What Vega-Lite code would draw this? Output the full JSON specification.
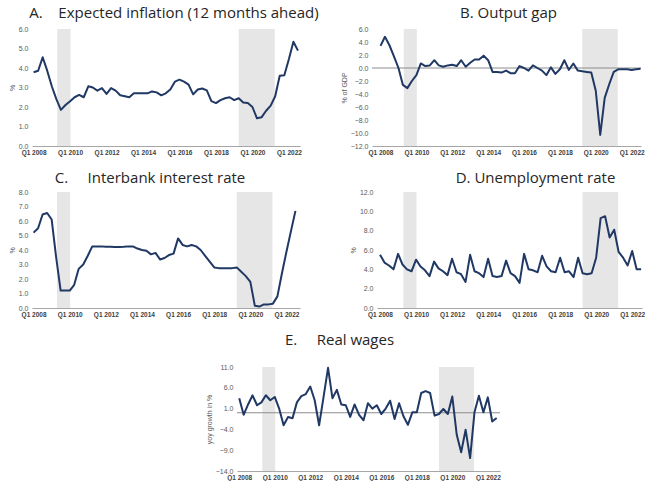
{
  "$schema": "https://vega.github.io/schema/vega-lite/v6.json",
  "background": "white",
  "padding": {"left": 8, "top": 6, "right": 0, "bottom": 0},
  "spacing": 15,
  "datasets": {
    "shade": [
      {"start": "2009-04-19", "end": "2010-01-10"},
      {"start": "2019-04-01", "end": "2021-03-23"}
    ],
    "series": [
      {"q": "2008-01-01", "infl": 3.78, "gap": 3.4, "rate": 5.2, "unemp": 5.5, "wage": 3.5},
      {"q": "2008-04-01", "infl": 3.86, "gap": 4.8, "rate": 5.5, "unemp": 4.7, "wage": -0.5},
      {"q": "2008-07-01", "infl": 4.55, "gap": 3.5, "rate": 6.45, "unemp": 4.4, "wage": 2.0},
      {"q": "2008-10-01", "infl": 3.85, "gap": 1.8, "rate": 6.55, "unemp": 4.0, "wage": 4.2},
      {"q": "2009-01-01", "infl": 3.05, "gap": 0.0, "rate": 6.1, "unemp": 5.6, "wage": 1.8},
      {"q": "2009-04-01", "infl": 2.4, "gap": -2.6, "rate": 3.5, "unemp": 4.5, "wage": 2.5},
      {"q": "2009-07-01", "infl": 1.85, "gap": -3.1, "rate": 1.2, "unemp": 4.0, "wage": 4.2},
      {"q": "2009-10-01", "infl": 2.1, "gap": -2.0, "rate": 1.2, "unemp": 3.8, "wage": 3.0},
      {"q": "2010-01-01", "infl": 2.3, "gap": -1.1, "rate": 1.2, "unemp": 5.0, "wage": 3.8},
      {"q": "2010-04-01", "infl": 2.5, "gap": 0.7, "rate": 1.6, "unemp": 4.3, "wage": 1.0},
      {"q": "2010-07-01", "infl": 2.62, "gap": 0.3, "rate": 2.7, "unemp": 3.9, "wage": -3.0},
      {"q": "2010-10-01", "infl": 2.5, "gap": 0.4, "rate": 3.0, "unemp": 3.3, "wage": -1.0},
      {"q": "2011-01-01", "infl": 3.06, "gap": 1.2, "rate": 3.6, "unemp": 4.8, "wage": -1.3},
      {"q": "2011-04-01", "infl": 3.0, "gap": 0.4, "rate": 4.25, "unemp": 4.1, "wage": 2.5},
      {"q": "2011-07-01", "infl": 2.84, "gap": 0.2, "rate": 4.25, "unemp": 3.8, "wage": 4.0},
      {"q": "2011-10-01", "infl": 2.97, "gap": 0.4, "rate": 4.25, "unemp": 3.4, "wage": 4.5},
      {"q": "2012-01-01", "infl": 2.67, "gap": 0.5, "rate": 4.22, "unemp": 5.1, "wage": 6.3},
      {"q": "2012-04-01", "infl": 2.97, "gap": 0.3, "rate": 4.22, "unemp": 3.7, "wage": 3.0},
      {"q": "2012-07-01", "infl": 2.84, "gap": 1.2, "rate": 4.2, "unemp": 3.5, "wage": -3.0},
      {"q": "2012-10-01", "infl": 2.6, "gap": 0.2, "rate": 4.2, "unemp": 2.7, "wage": 3.8},
      {"q": "2013-01-01", "infl": 2.55, "gap": 0.8, "rate": 4.22, "unemp": 5.5, "wage": 10.8},
      {"q": "2013-04-01", "infl": 2.5, "gap": 1.3, "rate": 4.25, "unemp": 3.8, "wage": 3.5},
      {"q": "2013-07-01", "infl": 2.7, "gap": 1.3, "rate": 4.25, "unemp": 3.6, "wage": 5.5},
      {"q": "2013-10-01", "infl": 2.7, "gap": 1.9, "rate": 4.1, "unemp": 3.2, "wage": 2.0},
      {"q": "2014-01-01", "infl": 2.7, "gap": 1.2, "rate": 4.0, "unemp": 5.1, "wage": 1.8},
      {"q": "2014-04-01", "infl": 2.7, "gap": -0.6, "rate": 3.95, "unemp": 3.3, "wage": -1.0},
      {"q": "2014-07-01", "infl": 2.8, "gap": -0.6, "rate": 3.7, "unemp": 3.2, "wage": 2.0},
      {"q": "2014-10-01", "infl": 2.75, "gap": -0.7, "rate": 3.8, "unemp": 3.3, "wage": -0.5},
      {"q": "2015-01-01", "infl": 2.6, "gap": -0.4, "rate": 3.35, "unemp": 4.9, "wage": -1.8},
      {"q": "2015-04-01", "infl": 2.7, "gap": -0.8, "rate": 3.45, "unemp": 3.6, "wage": 2.3},
      {"q": "2015-07-01", "infl": 2.9, "gap": -0.8, "rate": 3.65, "unemp": 3.3, "wage": 1.0},
      {"q": "2015-10-01", "infl": 3.3, "gap": 0.3, "rate": 3.75, "unemp": 2.6, "wage": 1.8},
      {"q": "2016-01-01", "infl": 3.4, "gap": 0.0, "rate": 4.8, "unemp": 5.6, "wage": -0.3},
      {"q": "2016-04-01", "infl": 3.3, "gap": -0.4, "rate": 4.35, "unemp": 4.0, "wage": 1.0},
      {"q": "2016-07-01", "infl": 3.15, "gap": 0.4, "rate": 4.25, "unemp": 3.9, "wage": 2.9},
      {"q": "2016-10-01", "infl": 2.65, "gap": 0.0, "rate": 4.35, "unemp": 3.7, "wage": -1.5},
      {"q": "2017-01-01", "infl": 2.9, "gap": -0.4, "rate": 4.25, "unemp": 5.4, "wage": 2.3},
      {"q": "2017-04-01", "infl": 2.95, "gap": -1.1, "rate": 4.0, "unemp": 4.3, "wage": -0.85},
      {"q": "2017-07-01", "infl": 2.85, "gap": 0.1, "rate": 3.6, "unemp": 3.8, "wage": -2.9},
      {"q": "2017-10-01", "infl": 2.3, "gap": -0.9, "rate": 3.2, "unemp": 3.7, "wage": 0.1},
      {"q": "2018-01-01", "infl": 2.2, "gap": -0.2, "rate": 2.8, "unemp": 5.2, "wage": 0.1},
      {"q": "2018-04-01", "infl": 2.35, "gap": 1.2, "rate": 2.75, "unemp": 3.7, "wage": 4.76},
      {"q": "2018-07-01", "infl": 2.45, "gap": -0.3, "rate": 2.75, "unemp": 3.8, "wage": 5.2},
      {"q": "2018-10-01", "infl": 2.5, "gap": 0.7, "rate": 2.75, "unemp": 3.2, "wage": 4.76},
      {"q": "2019-01-01", "infl": 2.35, "gap": -0.4, "rate": 2.75, "unemp": 5.2, "wage": -0.7},
      {"q": "2019-04-01", "infl": 2.45, "gap": -0.5, "rate": 2.8, "unemp": 3.6, "wage": -0.3},
      {"q": "2019-07-01", "infl": 2.23, "gap": -0.6, "rate": 2.5, "unemp": 3.5, "wage": 0.9},
      {"q": "2019-10-01", "infl": 2.2, "gap": -0.7, "rate": 2.2, "unemp": 3.6, "wage": -0.3},
      {"q": "2020-01-01", "infl": 2.0, "gap": -3.5, "rate": 1.8, "unemp": 5.2, "wage": 3.9},
      {"q": "2020-04-01", "infl": 1.42, "gap": -10.3, "rate": 0.15, "unemp": 9.3, "wage": -5.3},
      {"q": "2020-07-01", "infl": 1.47, "gap": -4.6, "rate": 0.1, "unemp": 9.5, "wage": -9.5},
      {"q": "2020-10-01", "infl": 1.81, "gap": -2.5, "rate": 0.25, "unemp": 7.3, "wage": -4.1},
      {"q": "2021-01-01", "infl": 2.07, "gap": -0.6, "rate": 0.25, "unemp": 8.1, "wage": -10.9},
      {"q": "2021-04-01", "infl": 2.55, "gap": -0.2, "rate": 0.3, "unemp": 5.8, "wage": 0.1},
      {"q": "2021-07-01", "infl": 3.6, "gap": -0.2, "rate": 0.8, "unemp": 5.2, "wage": 4.1},
      {"q": "2021-10-01", "infl": 3.63, "gap": -0.2, "rate": 2.4, "unemp": 4.4, "wage": 0.1},
      {"q": "2022-01-01", "infl": 4.46, "gap": -0.3, "rate": 3.9, "unemp": 5.9, "wage": 3.7},
      {"q": "2022-04-01", "infl": 5.35, "gap": -0.2, "rate": 5.3, "unemp": 4.0, "wage": -2.1},
      {"q": "2022-07-01", "infl": 4.89, "gap": -0.1, "rate": 6.7, "unemp": 4.0, "wage": -1.25}
    ]
  },
  "config": {
    "view": {"stroke": null},
    "font": "Liberation Sans",
    "title": {"font": "Open Sans", "fontSize": 15, "fontWeight": "normal", "color": "#262626", "anchor": "middle", "frame": "group", "baseline": "alphabetic"},
    "axis": {"grid": false, "ticks": false, "labelFontSize": 7, "labelColor": "#595959", "titleFontSize": 7, "titleFontWeight": "normal", "titleColor": "#595959", "labelOverlap": false, "labelFlush": false, "zindex": 1},
    "axisX": {"domainColor": "#a6a6a6", "domainWidth": 1, "labelFontSize": 6.5, "labelFontWeight": "bold", "labelColor": "#404040", "labelPadding": 3},
    "axisY": {"domain": false, "labelPadding": 4, "titlePadding": 3}
  },
  "vconcat": [
    {
      "spacing": 21,
      "hconcat": [
        {
          "title": {"text": "A.\u00a0\u00a0\u00a0 Expected inflation (12 months ahead)", "dx": 8, "offset": 4},
          "width": 268, "height": 117,
          "layer": [
            {"data": {"name": "shade"}, "mark": {"type": "rect", "color": "#e7e6e6"},
             "encoding": {"x": {"field": "start", "type": "temporal", "axis": {"title": null, "labelOverlap": false, "values": [{"year": 2008, "month": 1, "date": 1, "utc": true}, {"year": 2010, "month": 1, "date": 1, "utc": true}, {"year": 2012, "month": 1, "date": 1, "utc": true}, {"year": 2014, "month": 1, "date": 1, "utc": true}, {"year": 2016, "month": 1, "date": 1, "utc": true}, {"year": 2018, "month": 1, "date": 1, "utc": true}, {"year": 2020, "month": 1, "date": 1, "utc": true}, {"year": 2022, "month": 1, "date": 1, "utc": true}], "labelExpr": "'Q1 ' + utcFormat(datum.value, '%Y')"}}, "x2": {"field": "end"}}},
            {"data": {"name": "series"}, "mark": {"type": "line", "color": "#203864", "strokeWidth": 2, "strokeJoin": "round"},
             "encoding": {
               "x": {"field": "q", "type": "temporal", "scale": {"type": "utc", "domain": [{"year": 2007, "month": 11, "date": 30, "utc": true}, {"year": 2022, "month": 8, "date": 11, "utc": true}]},
                     "axis": {"title": null, "labelOverlap": false, "values": [{"year": 2008, "month": 1, "date": 1, "utc": true}, {"year": 2010, "month": 1, "date": 1, "utc": true}, {"year": 2012, "month": 1, "date": 1, "utc": true}, {"year": 2014, "month": 1, "date": 1, "utc": true}, {"year": 2016, "month": 1, "date": 1, "utc": true}, {"year": 2018, "month": 1, "date": 1, "utc": true}, {"year": 2020, "month": 1, "date": 1, "utc": true}, {"year": 2022, "month": 1, "date": 1, "utc": true}], "labelExpr": "'Q1 ' + utcFormat(datum.value, '%Y')"}},
               "y": {"field": "infl", "type": "quantitative", "scale": {"domain": [0, 6], "nice": false}, "axis": {"title": "%", "labelOverlap": false, "values": [0, 1, 2, 3, 4, 5, 6], "format": ".1f"}}
             }}
          ]
        },
        {
          "title": {"text": "B. Output gap", "dx": 2, "offset": 4},
          "width": 269, "height": 117,
          "layer": [
            {"data": {"name": "shade"}, "mark": {"type": "rect", "color": "#e7e6e6"},
             "encoding": {"x": {"field": "start", "type": "temporal", "axis": {"title": null, "labelOverlap": false, "values": [{"year": 2008, "month": 1, "date": 1, "utc": true}, {"year": 2010, "month": 1, "date": 1, "utc": true}, {"year": 2012, "month": 1, "date": 1, "utc": true}, {"year": 2014, "month": 1, "date": 1, "utc": true}, {"year": 2016, "month": 1, "date": 1, "utc": true}, {"year": 2018, "month": 1, "date": 1, "utc": true}, {"year": 2020, "month": 1, "date": 1, "utc": true}, {"year": 2022, "month": 1, "date": 1, "utc": true}], "labelExpr": "'Q1 ' + utcFormat(datum.value, '%Y')"}}, "x2": {"field": "end"}}},
            {"data": {"values": [{"z": 0}]}, "mark": {"type": "rule", "color": "#8c8c8c", "strokeWidth": 1},
             "encoding": {"y": {"field": "z", "type": "quantitative", "axis": {"title": "% of GDP", "labelOverlap": false, "values": [-12, -10, -8, -6, -4, -2, 0, 2, 4, 6], "format": ".1f"}}}},
            {"data": {"name": "series"}, "mark": {"type": "line", "color": "#203864", "strokeWidth": 2, "strokeJoin": "round"},
             "encoding": {
               "x": {"field": "q", "type": "temporal", "scale": {"type": "utc", "domain": [{"year": 2007, "month": 7, "date": 12, "utc": true}, {"year": 2022, "month": 7, "date": 10, "utc": true}]},
                     "axis": {"title": null, "labelOverlap": false, "values": [{"year": 2008, "month": 1, "date": 1, "utc": true}, {"year": 2010, "month": 1, "date": 1, "utc": true}, {"year": 2012, "month": 1, "date": 1, "utc": true}, {"year": 2014, "month": 1, "date": 1, "utc": true}, {"year": 2016, "month": 1, "date": 1, "utc": true}, {"year": 2018, "month": 1, "date": 1, "utc": true}, {"year": 2020, "month": 1, "date": 1, "utc": true}, {"year": 2022, "month": 1, "date": 1, "utc": true}], "labelExpr": "'Q1 ' + utcFormat(datum.value, '%Y')"}},
               "y": {"field": "gap", "type": "quantitative", "scale": {"domain": [-12, 6], "nice": false}, "axis": {"title": "% of GDP", "labelOverlap": false, "values": [-12, -10, -8, -6, -4, -2, 0, 2, 4, 6], "format": ".1f"}}
             }}
          ]
        }
      ]
    },
    {
      "spacing": 49,
      "hconcat": [
        {
          "title": {"text": "C.\u00a0\u00a0\u00a0\u00a0 Interbank interest rate", "dx": -16, "offset": 2},
          "width": 268, "height": 116,
          "layer": [
            {"data": {"name": "shade"}, "mark": {"type": "rect", "color": "#e7e6e6"},
             "encoding": {"x": {"field": "start", "type": "temporal", "axis": {"title": null, "labelOverlap": false, "values": [{"year": 2008, "month": 1, "date": 1, "utc": true}, {"year": 2010, "month": 1, "date": 1, "utc": true}, {"year": 2012, "month": 1, "date": 1, "utc": true}, {"year": 2014, "month": 1, "date": 1, "utc": true}, {"year": 2016, "month": 1, "date": 1, "utc": true}, {"year": 2018, "month": 1, "date": 1, "utc": true}, {"year": 2020, "month": 1, "date": 1, "utc": true}, {"year": 2022, "month": 1, "date": 1, "utc": true}], "labelExpr": "'Q1 ' + utcFormat(datum.value, '%Y')"}}, "x2": {"field": "end"}}},
            {"data": {"name": "series"}, "mark": {"type": "line", "color": "#203864", "strokeWidth": 2, "strokeJoin": "round"},
             "encoding": {
               "x": {"field": "q", "type": "temporal", "scale": {"type": "utc", "domain": [{"year": 2007, "month": 11, "date": 30, "utc": true}, {"year": 2022, "month": 10, "date": 1, "utc": true}]},
                     "axis": {"title": null, "labelOverlap": false, "values": [{"year": 2008, "month": 1, "date": 1, "utc": true}, {"year": 2010, "month": 1, "date": 1, "utc": true}, {"year": 2012, "month": 1, "date": 1, "utc": true}, {"year": 2014, "month": 1, "date": 1, "utc": true}, {"year": 2016, "month": 1, "date": 1, "utc": true}, {"year": 2018, "month": 1, "date": 1, "utc": true}, {"year": 2020, "month": 1, "date": 1, "utc": true}, {"year": 2022, "month": 1, "date": 1, "utc": true}], "labelExpr": "'Q1 ' + utcFormat(datum.value, '%Y')"}},
               "y": {"field": "rate", "type": "quantitative", "scale": {"domain": [0, 8], "nice": false}, "axis": {"title": "%", "labelOverlap": false, "values": [0, 1, 2, 3, 4, 5, 6, 7, 8], "format": ".1f"}}
             }}
          ]
        },
        {
          "title": {"text": "D. Unemployment rate", "dx": 26, "offset": 2},
          "width": 265, "height": 116,
          "layer": [
            {"data": {"name": "shade"}, "mark": {"type": "rect", "color": "#e7e6e6"},
             "encoding": {"x": {"field": "start", "type": "temporal", "axis": {"title": null, "labelOverlap": false, "values": [{"year": 2008, "month": 1, "date": 1, "utc": true}, {"year": 2010, "month": 1, "date": 1, "utc": true}, {"year": 2012, "month": 1, "date": 1, "utc": true}, {"year": 2014, "month": 1, "date": 1, "utc": true}, {"year": 2016, "month": 1, "date": 1, "utc": true}, {"year": 2018, "month": 1, "date": 1, "utc": true}, {"year": 2020, "month": 1, "date": 1, "utc": true}, {"year": 2022, "month": 1, "date": 1, "utc": true}], "labelExpr": "'Q1 ' + utcFormat(datum.value, '%Y')"}}, "x2": {"field": "end"}}},
            {"data": {"name": "series"}, "mark": {"type": "line", "color": "#203864", "strokeWidth": 2, "strokeJoin": "round"},
             "encoding": {
               "x": {"field": "q", "type": "temporal", "scale": {"type": "utc", "domain": [{"year": 2007, "month": 11, "date": 1, "utc": true}, {"year": 2022, "month": 7, "date": 19, "utc": true}]},
                     "axis": {"title": null, "labelOverlap": false, "values": [{"year": 2008, "month": 1, "date": 1, "utc": true}, {"year": 2010, "month": 1, "date": 1, "utc": true}, {"year": 2012, "month": 1, "date": 1, "utc": true}, {"year": 2014, "month": 1, "date": 1, "utc": true}, {"year": 2016, "month": 1, "date": 1, "utc": true}, {"year": 2018, "month": 1, "date": 1, "utc": true}, {"year": 2020, "month": 1, "date": 1, "utc": true}, {"year": 2022, "month": 1, "date": 1, "utc": true}], "labelExpr": "'Q1 ' + utcFormat(datum.value, '%Y')"}},
               "y": {"field": "unemp", "type": "quantitative", "scale": {"domain": [0, 12], "nice": false}, "axis": {"title": "%", "labelOverlap": false, "values": [0, 2, 4, 6, 8, 10, 12], "format": ".1f"}}
             }}
          ]
        }
      ]
    },
    {
      "spacing": 10,
      "hconcat": [
        {"width": 163, "height": 10, "data": {"values": [{"a": 1}]}, "mark": {"type": "point", "opacity": 0}, "encoding": {}},
        {
          "title": {"text": "E.\u00a0\u00a0\u00a0\u00a0 Real wages", "dx": -29, "offset": 15},
          "width": 263, "height": 104,
          "layer": [
            {"data": {"name": "shade"}, "mark": {"type": "rect", "color": "#e7e6e6"},
             "encoding": {"x": {"field": "start", "type": "temporal", "axis": {"title": null, "labelOverlap": false, "values": [{"year": 2008, "month": 1, "date": 1, "utc": true}, {"year": 2010, "month": 1, "date": 1, "utc": true}, {"year": 2012, "month": 1, "date": 1, "utc": true}, {"year": 2014, "month": 1, "date": 1, "utc": true}, {"year": 2016, "month": 1, "date": 1, "utc": true}, {"year": 2018, "month": 1, "date": 1, "utc": true}, {"year": 2020, "month": 1, "date": 1, "utc": true}, {"year": 2022, "month": 1, "date": 1, "utc": true}], "labelExpr": "'Q1 ' + utcFormat(datum.value, '%Y')"}}, "x2": {"field": "end"}}},
            {"data": {"values": [{"z": 0}]}, "mark": {"type": "rule", "color": "#8c8c8c", "strokeWidth": 1},
             "encoding": {"y": {"field": "z", "type": "quantitative", "axis": {"title": "yoy growth in %", "labelOverlap": false, "values": [-14, -9, -4, 1, 6, 11], "format": ".1f"}}}},
            {"data": {"name": "series"}, "mark": {"type": "line", "color": "#203864", "strokeWidth": 2, "strokeJoin": "round"},
             "encoding": {
               "x": {"field": "q", "type": "temporal", "scale": {"type": "utc", "domain": [{"year": 2007, "month": 11, "date": 16, "utc": true}, {"year": 2022, "month": 9, "date": 8, "utc": true}]},
                     "axis": {"title": null, "labelOverlap": false, "values": [{"year": 2008, "month": 1, "date": 1, "utc": true}, {"year": 2010, "month": 1, "date": 1, "utc": true}, {"year": 2012, "month": 1, "date": 1, "utc": true}, {"year": 2014, "month": 1, "date": 1, "utc": true}, {"year": 2016, "month": 1, "date": 1, "utc": true}, {"year": 2018, "month": 1, "date": 1, "utc": true}, {"year": 2020, "month": 1, "date": 1, "utc": true}, {"year": 2022, "month": 1, "date": 1, "utc": true}], "labelExpr": "'Q1 ' + utcFormat(datum.value, '%Y')"}},
               "y": {"field": "wage", "type": "quantitative", "scale": {"domain": [-14, 11], "nice": false}, "axis": {"title": "yoy growth in %", "labelOverlap": false, "values": [-14, -9, -4, 1, 6, 11], "format": ".1f"}}
             }}
          ]
        }
      ]
    }
  ]
}
